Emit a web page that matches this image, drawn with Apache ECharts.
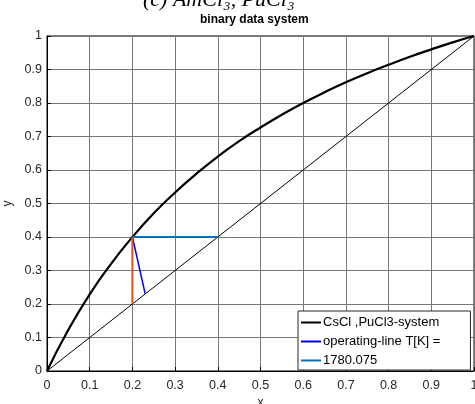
<!DOCTYPE html>
<html>
<head>
<meta charset="utf-8">
<script src="https://cdn.jsdelivr.net/npm/echarts@6/dist/echarts.min.js"></script>
<style>
  html, body { margin: 0; padding: 0; background: #fff; }
  #chart { width: 475px; height: 404px; }
</style>
</head>
<body>
<div id="chart"></div>
<script>
// Equilibrium curve of the CsCl / PuCl3 binary system (x = liquid, y = vapour)
const eqX = [0, 0.05, 0.1, 0.15, 0.2, 0.25, 0.3, 0.35, 0.4, 0.45, 0.5,
             0.55, 0.6, 0.65, 0.7, 0.75, 0.8, 0.85, 0.9, 0.95, 1];
const eqY = [0, 0.123, 0.229, 0.320, 0.400, 0.471, 0.533, 0.589, 0.640, 0.686, 0.727,
             0.765, 0.800, 0.832, 0.862, 0.889, 0.914, 0.938, 0.960, 0.981, 1];

// Diagonal y = x
const diagX = [0, 1];
const diagY = [0, 1];

// Operating line at the given temperature
const opX = [0.2, 0.23];
const opY = [0.4, 0.23];

// Horizontal step (labelled with the temperature) and vertical step
const stepHX = [0.2, 0.4];
const stepHY = [0.4, 0.4];
const stepVX = [0.2, 0.2];
const stepVY = [0.2, 0.4];

const axisTicks = [0, 0.1, 0.2, 0.3, 0.4, 0.5, 0.6, 0.7, 0.8, 0.9, 1];

const names = ['CsCl ,PuCl3-system', 'operating-line T[K] =', '1780.075'];

const pairs = (xs, ys) => xs.map((v, i) => [v, ys[i]]);

const FONT = '"Liberation Sans", Arial, Helvetica, sans-serif';
const gridColor = '#777';

const chart = echarts.init(document.getElementById('chart'), null, { renderer: 'canvas' });

const axisCommon = {
  type: 'value',
  min: axisTicks[0],
  max: axisTicks[axisTicks.length - 1],
  interval: 0.1,
  axisLine: { show: true, onZero: false, lineStyle: { color: '#000', width: 1 } },
  axisTick: { show: true, inside: true, length: 4, lineStyle: { color: '#000' } },
  splitLine: { show: true, lineStyle: { color: gridColor, width: 1 } },
  axisLabel: {
    color: '#262626', fontSize: 12.5, fontFamily: FONT,
    formatter: v => String(Math.round(v * 10) / 10)
  },
  nameLocation: 'middle',
  nameTextStyle: { color: '#262626', fontSize: 12, fontFamily: FONT }
};

chart.setOption({
  animation: false,
  backgroundColor: '#fff',
  grid: {
    left: 47, right: 1, top: 36, bottom: 33,
    containLabel: false,
    outerBoundsMode: 'none',
    show: true, borderColor: '#000', borderWidth: 1, backgroundColor: '#fff'
  },
  title: {
    text: 'binary data system',
    left: 200, top: 14,
    padding: 0,
    textStyle: { fontSize: 12, fontWeight: 'bold', fontFamily: FONT, color: '#000' }
  },
  graphic: [{
    type: 'text',
    left: 143, top: -11,
    silent: true,
    style: {
      text: '(c) AmCl\u2083, PuCl\u2083',
      font: 'italic 22px "Liberation Serif", "DejaVu Serif", serif',
      fill: '#000'
    }
  }],
  xAxis: Object.assign({}, axisCommon, {
    name: 'x', nameGap: 19,
    axisLabel: Object.assign({}, axisCommon.axisLabel, { margin: 8 })
  }),
  yAxis: Object.assign({}, axisCommon, {
    name: 'y', nameGap: 26,
    axisLabel: Object.assign({}, axisCommon.axisLabel, { margin: 5 })
  }),
  legend: {
    data: names,
    orient: 'vertical',
    left: 298, top: 311,
    padding: [5, 30, 3, 3],
    itemGap: 6,
    itemWidth: 20, itemHeight: 2,
    icon: 'rect',
    backgroundColor: '#fff',
    borderColor: '#262626', borderWidth: 1,
    textStyle: { color: '#000', fontSize: 13, fontFamily: FONT, padding: [0, 0, 0, -3] }
  },
  series: [
    {
      name: 'diag', type: 'line', data: pairs(diagX, diagY),
      showSymbol: false, lineStyle: { color: '#000', width: 1 }, z: 2
    },
    {
      name: names[0], type: 'line', data: pairs(eqX, eqY), smooth: true,
      showSymbol: false, itemStyle: { color: '#000' }, lineStyle: { color: '#000', width: 2.2 }, z: 3
    },
    {
      name: names[1], type: 'line', data: pairs(opX, opY),
      showSymbol: false, itemStyle: { color: '#0000ff' }, lineStyle: { color: '#0000ff', width: 1.5 }, z: 4
    },
    {
      name: names[2], type: 'line', data: pairs(stepHX, stepHY),
      showSymbol: false, itemStyle: { color: '#0072bd' }, lineStyle: { color: '#0072bd', width: 2 }, z: 4
    },
    {
      name: 'step', type: 'line', data: pairs(stepVX, stepVY),
      showSymbol: false, itemStyle: { color: '#d95319' }, lineStyle: { color: '#d95319', width: 2 }, z: 4
    }
  ]
});
</script>
</body>
</html>
